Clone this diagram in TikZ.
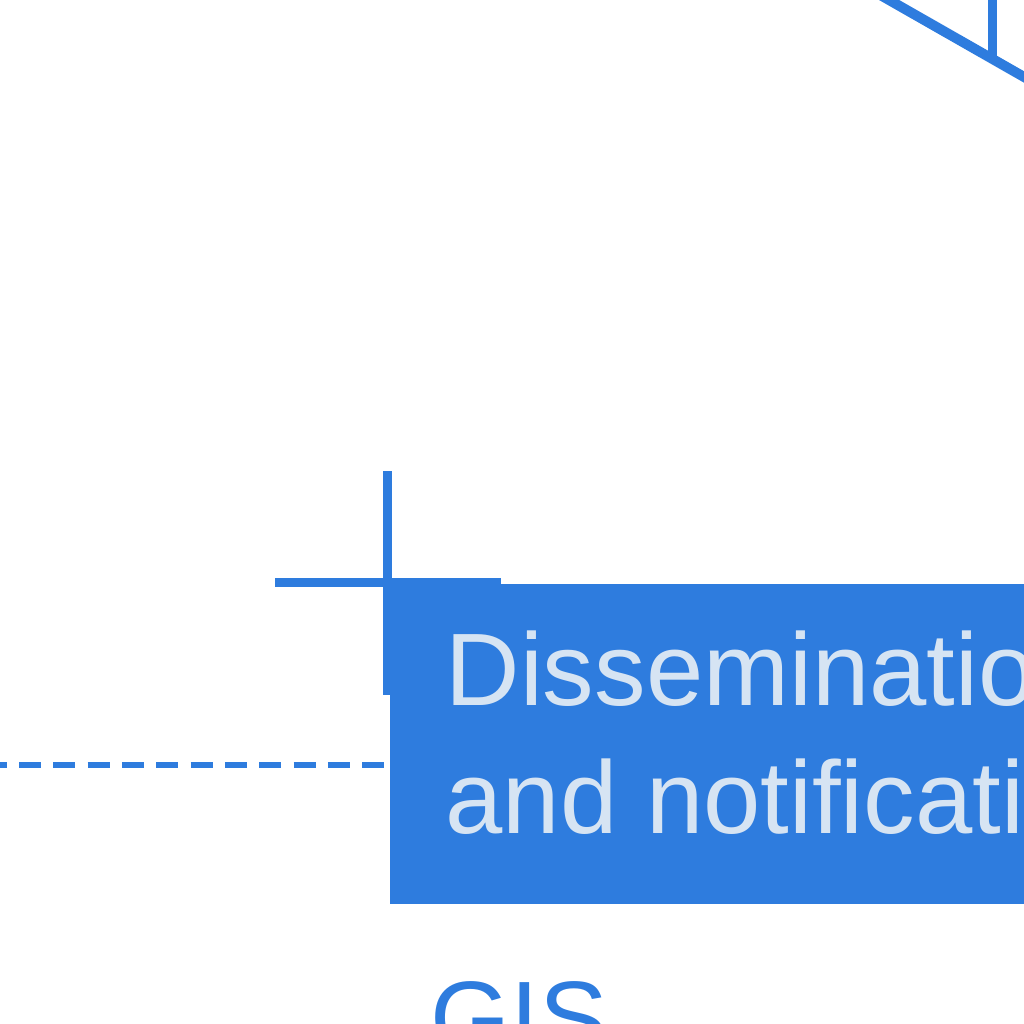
\documentclass[tikz,border=0pt]{standalone}
\usepackage{fontspec}
\setmainfont{Liberation Sans}
\usetikzlibrary{positioning, calc}
\definecolor{mainblue}{RGB}{46,124,222}
\definecolor{paleblue}{RGB}{214,228,243}

\begin{document}
\begin{tikzpicture}[x=0.01cm, y=-0.01cm,
  bigtext/.style={font=\fontsize{29.3}{36.2}\selectfont, inner sep=0pt},
  blueline/.style={draw=mainblue, line width=0.09cm},
  bluebox/.style={fill=mainblue, inner sep=0pt, minimum width=7.5cm, minimum height=3.2cm, anchor=north west}]

\useasboundingbox (0,0) rectangle (1024,1024);
\clip (0,0) rectangle (1024,1024);

% corner mark
\coordinate (mark) at (387,582);
\draw[blueline] (mark) ++(0,-111) -- ++(0,224);
\draw[blueline] (mark) ++(-112,0) -- ++(226,0);

\node[bluebox] (dissem) at (389,583) {};
\node[bigtext, text=paleblue, align=left, anchor=base west] (dissemtext) at (445,833) {Dissemination\\and notification};

\coordinate (dashstart) at (0,765);
\draw[draw=mainblue, line width=0.06cm, dash pattern=on 0.22cm off 0.123cm, dash phase=0.153cm] (dashstart) -- (dashstart -| dissem.west);

% top right
\draw[blueline, line width=0.1cm] (840,-28) -- (1110,126);
\draw[blueline] (992,-10) -- (992,60);

\node[bigtext, text=mainblue, anchor=base west] (gis) at (430,1053) {GIS};

\end{tikzpicture}
\end{document}
